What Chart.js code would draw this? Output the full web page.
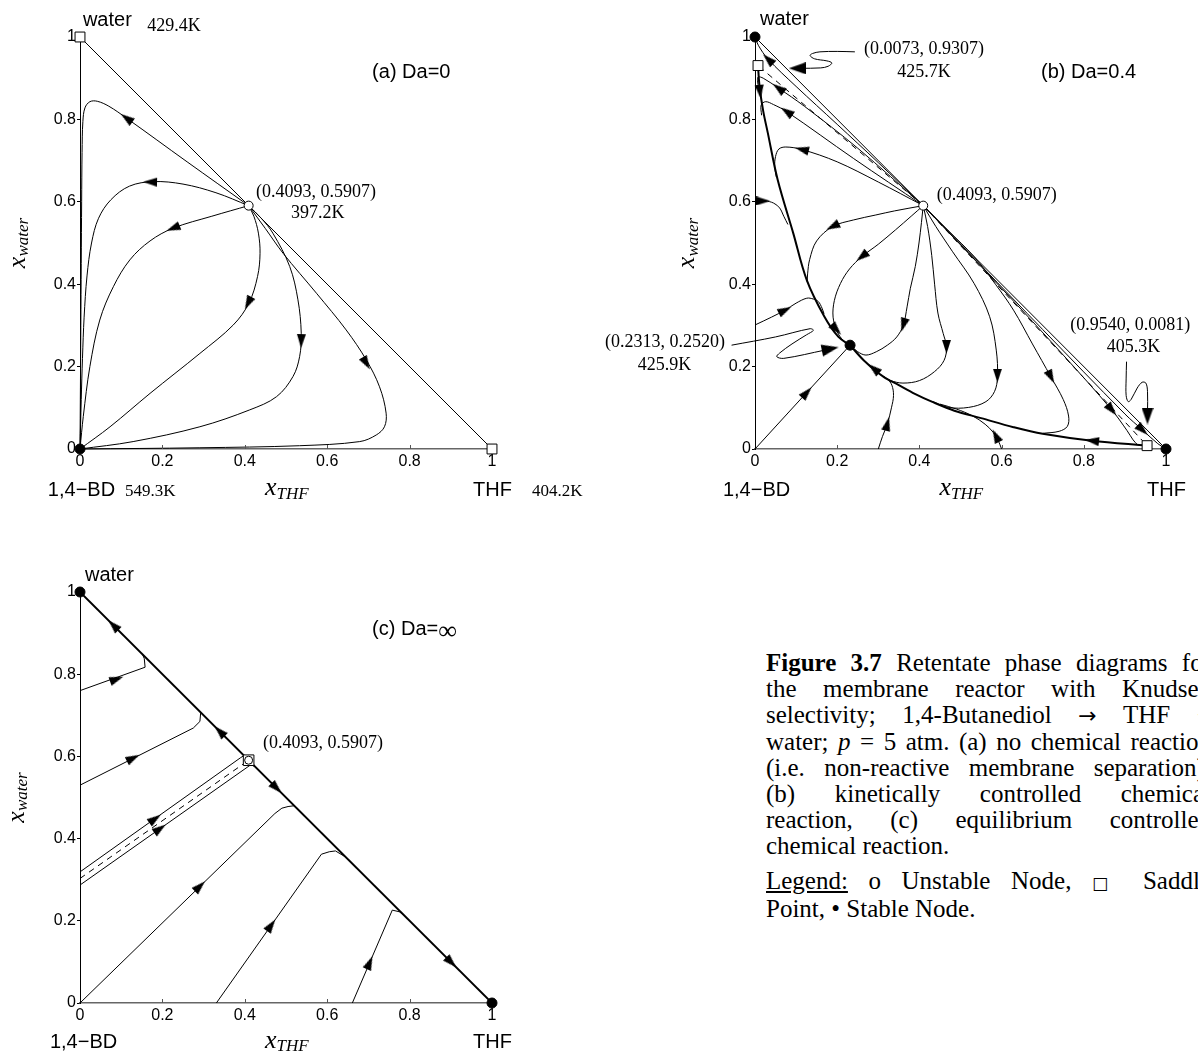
<!DOCTYPE html>
<html>
<head>
<meta charset="utf-8">
<script src="https://cdn.jsdelivr.net/npm/chart.js@4.4.1/dist/chart.umd.min.js"></script>
<style>
html, body { margin: 0; padding: 0; background: #fff; }
body { width: 1198px; height: 1052px; position: relative; overflow: hidden; }
canvas { position: absolute; }
#caption { position: absolute; left: 766px; top: 650px; font-family: "Liberation Serif", "Times New Roman", serif; font-size: 25px; line-height: 26px; color: #000; }
#caption div { width: 445px; }
#caption .j { text-align: justify; text-align-last: justify; }
#caption .gap { margin-top: 9px; }
#caption .arr { font-family: "DejaVu Sans", sans-serif; font-size: 22px; }
#caption .sq { font-family: "DejaVu Sans", sans-serif; font-size: 17px; }
</style>
</head>
<body>
<canvas id="ca" width="620" height="520" style="left:0;top:0"></canvas>
<canvas id="cb" width="628" height="520" style="left:570px;top:0"></canvas>
<canvas id="cc" width="570" height="512" style="left:0;top:540px"></canvas>
<div id="caption">
  <div class="j"><b>Figure 3.7</b> Retentate phase diagrams for</div>
  <div class="j">the membrane reactor with Knudsen</div>
  <div class="j">selectivity; 1,4-Butanediol <span class="arr">&rarr;</span> THF +</div>
  <div class="j">water; <i>p</i> = 5 atm. (a) no chemical reaction</div>
  <div class="j">(i.e. non-reactive membrane separation),</div>
  <div class="j">(b) kinetically controlled chemical</div>
  <div class="j">reaction, (c) equilibrium controlled</div>
  <div>chemical reaction.</div>
  <div class="j gap"><u>Legend:</u> o Unstable Node, <span class="sq">&#9633;</span> Saddle</div>
  <div>Point, &bull; Stable Node.</div>
</div>
<script>
// axis ticks, shared by the three panels
const tickValues = [0, 0.2, 0.4, 0.6, 0.8, 1];
const tickLabels = ['0', '0.2', '0.4', '0.6', '0.8', '1'];

// ---- (a) Da=0 ----
const aEdge = [[0, 1], [1, 0]];
const aCurve1 = [[0.4093, 0.5907], [0.26, 0.697], [0.113, 0.803], [0.07, 0.832], [0.042, 0.844], [0.024, 0.843], [0.012, 0.828], [0.007, 0.795], [0.005, 0.72], [0.004, 0.6], [0.003, 0.45], [0.002, 0.3], [0.001, 0.15], [0, 0]];
const aCurve2 = [[0.4093, 0.5907], [0.33, 0.622], [0.25, 0.643], [0.178, 0.649], [0.12, 0.638], [0.075, 0.605], [0.045, 0.56], [0.028, 0.5], [0.017, 0.42], [0.01, 0.32], [0.006, 0.22], [0.003, 0.12], [0, 0]];
const aCurve3 = [[0.4093, 0.5907], [0.32, 0.565], [0.226, 0.536], [0.17, 0.505], [0.121, 0.459], [0.081, 0.394], [0.048, 0.313], [0.024, 0.2], [0.008, 0.079], [0, 0]];
const aCurve4 = [[0.4093, 0.5907], [0.422, 0.565], [0.433, 0.524], [0.437, 0.475], [0.431, 0.419], [0.41, 0.354], [0.372, 0.301], [0.291, 0.232], [0.17, 0.135], [0.073, 0.054], [0, 0]];
const aCurve5 = [[0.4093, 0.5907], [0.44, 0.56], [0.468, 0.524], [0.509, 0.443], [0.529, 0.362], [0.537, 0.281], [0.533, 0.224], [0.517, 0.176], [0.477, 0.127], [0.412, 0.095], [0.291, 0.054], [0.129, 0.018], [0, 0]];
const aCurve6 = [[0.4093, 0.5907], [0.45, 0.535], [0.493, 0.475], [0.574, 0.378], [0.646, 0.289], [0.695, 0.216], [0.727, 0.151], [0.743, 0.087], [0.739, 0.054], [0.719, 0.034], [0.679, 0.018], [0.533, 0.008], [0.291, 0.003], [0, 0]];
const aArrows = [[0.113, 0.803, -0.81, 0.58], [0.17, 0.648, -1, 0.02], [0.226, 0.536, -0.93, -0.37], [0.408, 0.354, -0.45, -0.89], [0.537, 0.262, -0.03, -1], [0.695, 0.208, 0.5, -0.86]];
const aSaddle = [[0, 1], [1, 0]];
const aUnstable = [[0.4093, 0.5907]];
const aStable = [[0, 0]];

// ---- (b) Da=0.4 ----
const bEdge = [[0, 1], [1, 0]];
const bSepUpper = [[0.0073, 0.9307], [0.011, 0.881], [0.02, 0.82], [0.031, 0.768], [0.055, 0.654], [0.093, 0.524], [0.126, 0.41], [0.169, 0.321], [0.203, 0.272], [0.2313, 0.252]];
const bSepLower = [[0.954, 0.0081], [0.82, 0.02], [0.7, 0.037], [0.629, 0.053], [0.55, 0.075], [0.485, 0.093], [0.43, 0.115], [0.389, 0.134], [0.35, 0.155], [0.313, 0.175], [0.265, 0.215], [0.2313, 0.252]];
const bDash1 = [[0.4093, 0.5907], [0.0073, 0.9307]];
const bDash2 = [[0.4093, 0.5907], [0.954, 0.0081]];
const bCurve1 = [[0.4093, 0.5907], [0.3, 0.695], [0.2, 0.788], [0.1, 0.88], [0.032, 0.946], [0.008, 0.98], [0, 1]];
const bCurve2 = [[0.4093, 0.5907], [0.25, 0.73], [0.12, 0.832], [0.057, 0.876], [0.02, 0.9], [0.008, 0.903], [0.006, 0.895], [0.009, 0.875]];
const bCurve3 = [[0.4093, 0.5907], [0.24, 0.705], [0.077, 0.819], [0.045, 0.836], [0.026, 0.843], [0.015, 0.835], [0.016, 0.81]];
const bCurve4 = [[0.4093, 0.5907], [0.3, 0.648], [0.2, 0.697], [0.114, 0.727], [0.075, 0.733], [0.058, 0.728], [0.05, 0.71], [0.048, 0.685], [0.052, 0.66]];
const bCurve5 = [[0, 0.601], [0.025, 0.602], [0.045, 0.597], [0.06, 0.585], [0.07, 0.565], [0.08, 0.545]];
const bCurve6 = [[0.4093, 0.5907], [0.34, 0.578], [0.294, 0.568], [0.24, 0.556], [0.189, 0.54], [0.15, 0.505], [0.133, 0.46], [0.128, 0.425], [0.127, 0.405]];
const bCurve7 = [[0.4093, 0.5907], [0.38, 0.565], [0.342, 0.532], [0.3, 0.497], [0.26, 0.467], [0.23, 0.437], [0.208, 0.402], [0.193, 0.36], [0.19, 0.32], [0.2, 0.285], [0.215, 0.263], [0.2313, 0.252]];
const bCurve8 = [[0.4093, 0.5907], [0.405, 0.55], [0.399, 0.5], [0.39, 0.443], [0.378, 0.39], [0.37, 0.345], [0.361, 0.301], [0.345, 0.272], [0.322, 0.252], [0.295, 0.236], [0.27, 0.228], [0.25, 0.236], [0.2313, 0.252]];
const bCurve9 = [[0.4093, 0.5907], [0.42, 0.54], [0.43, 0.47], [0.437, 0.4], [0.445, 0.33], [0.458, 0.28], [0.466, 0.248], [0.46, 0.215], [0.437, 0.188], [0.4, 0.166], [0.36, 0.16], [0.33, 0.166], [0.313, 0.175]];
const bCurve10 = [[0.4093, 0.5907], [0.44, 0.54], [0.48, 0.48], [0.533, 0.402], [0.571, 0.321], [0.587, 0.24], [0.59, 0.175], [0.583, 0.14], [0.562, 0.115], [0.52, 0.101], [0.47, 0.101], [0.43, 0.116]];
const bCurve11 = [[0.4093, 0.5907], [0.47, 0.53], [0.533, 0.467], [0.585, 0.4], [0.629, 0.337], [0.675, 0.255], [0.72, 0.175], [0.75, 0.12], [0.763, 0.08], [0.76, 0.055], [0.74, 0.043], [0.7, 0.038]];
const bCurve12 = [[0.4093, 0.5907], [0.6, 0.39], [0.75, 0.228], [0.868, 0.095], [0.905, 0.045], [0.92, 0.022], [0.93, 0.011]];
const bCurve13 = [[0.4093, 0.5907], [0.7, 0.29], [0.9, 0.085], [0.943, 0.046], [0.98, 0.013], [1, 0]];
const bCurve14 = [[0.3, 0], [0.31, 0.03], [0.322, 0.061], [0.332, 0.1], [0.337, 0.13], [0.333, 0.155], [0.322, 0.17], [0.313, 0.176]];
const bCurve15 = [[0.6, 0], [0.592, 0.02], [0.58, 0.04], [0.56, 0.06], [0.53, 0.08], [0.49, 0.097], [0.45, 0.109]];
const bCurve16 = [[0, 0], [0.2313, 0.252]];
const bCurve17 = [[0, 0.301], [0.04, 0.32], [0.073, 0.337], [0.1, 0.354], [0.126, 0.366], [0.142, 0.364], [0.154, 0.358], [0.163, 0.342], [0.168, 0.328]];
const bArrows = [[0.032, 0.946, -1, 0.95], [0.057, 0.876, -1, 0.75], [0.012, 0.867, 0.1, -1], [0.077, 0.819, -1, 0.69], [0.114, 0.727, -1, 0.25], [0.02, 0.602, 1, 0], [0.189, 0.54, -1, -0.5], [0.26, 0.467, -1, -0.8], [0.361, 0.301, -0.3, -1], [0.466, 0.248, 0, -1], [0.59, 0.178, 0, -1], [0.72, 0.175, 0.5, -1], [0.868, 0.095, 0.64, -0.77], [0.943, 0.046, 1, -0.95], [0.82, 0.02, -1, 0.12], [0.289, 0.195, -1, 0.83], [0.198, 0.29, 1, -1.1], [0.322, 0.061, 0.25, 1], [0.586, 0.032, -0.5, 1], [0.126, 0.137, 1, 1.09], [0.073, 0.337, 1, 0.5]];
const bNote1 = [[0.243, 0.964], [0.2, 0.965], [0.158, 0.964], [0.14, 0.96], [0.134, 0.955], [0.145, 0.947], [0.175, 0.942], [0.187, 0.937], [0.178, 0.929], [0.16, 0.925], [0.11, 0.924]];
const bNote2 = [[-0.057, 0.252], [0.05, 0.272], [0.134, 0.292], [0.142, 0.288], [0.125, 0.277], [0.09, 0.255], [0.06, 0.233], [0.053, 0.224], [0.07, 0.22], [0.17, 0.24]];
const bNote3 = [[0.904, 0.212], [0.903, 0.17], [0.903, 0.13], [0.908, 0.115], [0.915, 0.12], [0.93, 0.148], [0.942, 0.162], [0.951, 0.16], [0.955, 0.14], [0.955, 0.09]];
const bNoteArrows = [[0.103, 0.924, -1, 0], [0.183, 0.243, 1, 0.2], [0.955, 0.08, 0, -1]];
const bSaddle = [[0.0073, 0.9307], [0.954, 0.0081]];
const bUnstable = [[0.4093, 0.5907]];
const bStable = [[0, 1], [0.2313, 0.252], [1, 0]];

// ---- (c) Da=inf ----
const cEdge = [[0, 1], [1, 0]];
const cCurve1 = [[0, 0.76], [0.158, 0.817], [0.156, 0.838], [0.152, 0.848]];
const cCurve2 = [[0, 0.53], [0.275, 0.669], [0.291, 0.685], [0.293, 0.707]];
const cCurve3 = [[0, 0.319], [0.39, 0.597], [0.398, 0.602]];
const cDash = [[0, 0.303], [0.4093, 0.5907]];
const cCurve4 = [[0, 0.287], [0.415, 0.58], [0.425, 0.575]];
const cCurve5 = [[0, 0], [0.473, 0.461], [0.49, 0.474], [0.505, 0.478], [0.52, 0.48]];
const cCurve6 = [[0.331, 0], [0.586, 0.362], [0.605, 0.368], [0.62, 0.37], [0.645, 0.355]];
const cCurve7 = [[0.661, 0], [0.758, 0.226], [0.775, 0.222], [0.785, 0.215]];
const cArrows = [[0.081, 0.919, -1, 1], [0.339, 0.661, -1, 1], [0.477, 0.523, 1, -1], [0.901, 0.099, 1, -1], [0.089, 0.788, 1, 0.36], [0.129, 0.596, 1, 0.5], [0.182, 0.448, 1, 0.708], [0.194, 0.424, 1, 0.706], [0.291, 0.284, 1, 0.975], [0.464, 0.189, 1, 1.42], [0.703, 0.098, 1, 2.33]];
const cSaddle = [[0.4093, 0.5907]];
const cUnstable = [[0.4093, 0.5907]];
const cStable = [[0, 1], [1, 0]];

const SANS = '"Liberation Sans", Arial, sans-serif';
const SERIF = '"Liberation Serif", "Times New Roman", serif';
const LAB = '20px ' + SANS;
const NUM = '18px ' + SERIF;
const XMAIN = 'italic 26px ' + SERIF;
const XSUB = 'italic 17px ' + SERIF;

function arrowHead(w, h) {
  const c = document.createElement('canvas');
  c.width = w; c.height = h;
  const g = c.getContext('2d');
  g.fillStyle = '#000';
  g.beginPath(); g.moveTo(w / 2, 0); g.lineTo(w, h); g.lineTo(0, h); g.closePath(); g.fill();
  return c;
}
const smallHead = arrowHead(9, 14);
const bigHead = arrowHead(12, 17);

function pts(arr) { return arr.map(p => ({ x: p[0], y: p[1] })); }

function curve(arr, opt) {
  opt = opt || {};
  return {
    data: pts(arr), showLine: true, borderColor: '#000', backgroundColor: '#000',
    borderWidth: opt.w || 1, borderDash: opt.dash || [], pointRadius: 0,
    tension: opt.t == null ? 0.35 : opt.t, clip: false, order: 3
  };
}

function arrowAngle(ctx) {
  const r = ctx.raw;
  if (!r) return 0;
  const sx = ctx.chart.scales.x, sy = ctx.chart.scales.y;
  const kx = sx.getPixelForValue(1) - sx.getPixelForValue(0);
  const ky = sy.getPixelForValue(0) - sy.getPixelForValue(1);
  return Math.atan2(r.dx * kx, r.dy * ky) * 180 / Math.PI;
}

function arrows(list, head) {
  return {
    data: list.map(a => ({ x: a[0], y: a[1], dx: a[2], dy: a[3] })),
    showLine: false, pointStyle: head, pointRadius: 6, pointRotation: arrowAngle,
    clip: false, order: 1
  };
}

function marks(arr, style, r, fill) {
  return {
    data: pts(arr), showLine: false, pointStyle: style, pointRadius: r,
    backgroundColor: fill, borderColor: '#000', borderWidth: 1, clip: false, order: 0
  };
}

// inward x ticks and the free text of each panel
const annotate = {
  id: 'annotate',
  afterDatasetsDraw(chart, args, opts) {
    const ctx = chart.ctx, sx = chart.scales.x, sy = chart.scales.y;
    ctx.save();
    ctx.strokeStyle = '#555';
    ctx.lineWidth = 1;
    const yb = sy.getPixelForValue(0);
    tickValues.slice(1, -1).forEach(v => {
      const px = Math.round(sx.getPixelForValue(v)) + 0.5;
      ctx.beginPath(); ctx.moveTo(px, yb); ctx.lineTo(px, yb - 4); ctx.stroke();
    });
    ctx.restore();
    (opts.items || []).forEach(it => {
      ctx.save();
      ctx.translate(sx.getPixelForValue(it.x), sy.getPixelForValue(it.y));
      if (it.rot) ctx.rotate(it.rot * Math.PI / 180);
      ctx.fillStyle = '#000';
      ctx.textBaseline = 'middle';
      let w = 0;
      it.parts.forEach(p => { ctx.font = p[1]; w += ctx.measureText(p[0]).width; });
      let cx = it.align === 'center' ? -w / 2 : 0;
      it.parts.forEach(p => {
        ctx.font = p[1];
        ctx.fillText(p[0], cx, p[2] || 0);
        cx += ctx.measureText(p[0]).width;
      });
      ctx.restore();
    });
  }
};

function axis(isX, size) {
  return {
    type: 'linear', min: 0, max: 1,
    afterBuildTicks: s => { s.ticks = tickValues.map(v => ({ value: v })); },
    afterFit: s => { if (isX) s.height = size; else s.width = size; },
    ticks: {
      autoSkip: false, maxRotation: 0, color: '#000', padding: isX ? 3 : 1,
      font: { family: SANS, size: 16 },
      callback: (v, i) => tickLabels[i]
    },
    grid: isX
      ? { display: false, drawTicks: false }
      : { display: true, drawOnChartArea: false, drawTicks: true, tickLength: 3, color: '#000' },
    border: { display: true, color: isX ? '#666' : '#000', width: isX ? 1.5 : 1 }
  };
}

function panel(id, box, datasets, items) {
  return new Chart(document.getElementById(id), {
    type: 'scatter',
    data: { datasets: datasets },
    options: {
      responsive: false, animation: false, devicePixelRatio: 1, events: [],
      layout: { padding: { top: box.top, right: box.right, left: 0, bottom: 0 } },
      scales: { x: axis(true, box.xh), y: axis(false, box.yw) },
      plugins: { legend: { display: false }, tooltip: { enabled: false }, annotate: { items: items } }
    },
    plugins: [annotate]
  });
}

function xwater(x) {
  return { x: x, y: 0.5, rot: -90, align: 'center', parts: [['x', XMAIN, -2], ['water', XSUB, 4]] };
}
function bottomLabels(bd, y) {
  return [
    { x: bd, y: y, parts: [['1,4\u2212BD', LAB]] },
    { x: 0.502, y: y, align: 'center', parts: [['x', XMAIN, -2], ['THF', XSUB, 4]] },
    { x: 0.954, y: y, parts: [['THF', LAB]] }
  ];
}

panel('ca', { top: 37, right: 128, xh: 71, yw: 80 }, [
  marks(aSaddle, 'rect', 7, '#fff'),
  marks(aUnstable, 'circle', 4.5, '#fff'),
  marks(aStable, 'circle', 5, '#000'),
  arrows(aArrows, smallHead),
  curve(aEdge, { t: 0 }),
  curve(aCurve1), curve(aCurve2), curve(aCurve3), curve(aCurve4), curve(aCurve5), curve(aCurve6)
], [
  { x: 0.007, y: 1.041, parts: [['water', LAB]] },
  { x: 0.163, y: 1.027, parts: [['429.4K', NUM]] },
  { x: 0.709, y: 0.913, parts: [['(a) Da=0', LAB]] },
  { x: 0.427, y: 0.624, parts: [['(0.4093, 0.5907)', NUM]] },
  { x: 0.512, y: 0.573, parts: [['397.2K', NUM]] },
  xwater(-0.146),
  { x: 0.109, y: -0.104, parts: [['549.3K', '17px ' + SERIF]] },
  { x: 1.097, y: -0.104, parts: [['404.2K', '17px ' + SERIF]] }
].concat(bottomLabels(-0.078, -0.1)));

panel('cb', { top: 37, right: 32, xh: 71, yw: 185 }, [
  marks(bSaddle, 'rect', 7, '#fff'),
  marks(bUnstable, 'circle', 4.5, '#fff'),
  marks(bStable, 'circle', 5, '#000'),
  arrows(bArrows, smallHead),
  arrows(bNoteArrows, bigHead),
  curve(bEdge, { t: 0 }),
  curve(bSepUpper, { w: 2 }), curve(bSepLower, { w: 2 }),
  curve(bDash1, { t: 0, dash: [6, 5] }), curve(bDash2, { t: 0, dash: [6, 5] }),
  curve(bCurve1), curve(bCurve2), curve(bCurve3), curve(bCurve4), curve(bCurve5),
  curve(bCurve6), curve(bCurve7), curve(bCurve8), curve(bCurve9), curve(bCurve10),
  curve(bCurve11), curve(bCurve12), curve(bCurve13), curve(bCurve14), curve(bCurve15),
  curve(bCurve16, { t: 0 }), curve(bCurve17),
  curve(bNote1), curve(bNote2), curve(bNote3)
], [
  { x: 0.012, y: 1.042, parts: [['water', LAB]] },
  { x: 0.265, y: 0.971, parts: [['(0.0073, 0.9307)', NUM]] },
  { x: 0.346, y: 0.914, parts: [['425.7K', NUM]] },
  { x: 0.696, y: 0.914, parts: [['(b) Da=0.4', LAB]] },
  { x: 0.442, y: 0.617, parts: [['(0.4093, 0.5907)', NUM]] },
  { x: -0.365, y: 0.26, parts: [['(0.2313, 0.2520)', NUM]] },
  { x: -0.285, y: 0.204, parts: [['425.9K', NUM]] },
  { x: 0.767, y: 0.30, parts: [['(0.9540, 0.0081)', NUM]] },
  { x: 0.856, y: 0.248, parts: [['405.3K', NUM]] },
  xwater(-0.159)
].concat(bottomLabels(-0.078, -0.1)));

panel('cc', { top: 52, right: 78, xh: 49, yw: 80 }, [
  marks(cUnstable, 'circle', 4, '#fff'),
  marks(cSaddle, 'rect', 7.5, '#fff'),
  marks(cStable, 'circle', 5, '#000'),
  arrows(cArrows, smallHead),
  curve(cEdge, { t: 0, w: 1.8 }),
  curve(cCurve1, { t: 0 }), curve(cCurve2, { t: 0 }), curve(cCurve3, { t: 0 }),
  curve(cDash, { t: 0, dash: [6, 5] }), curve(cCurve4, { t: 0 }),
  curve(cCurve5, { t: 0 }), curve(cCurve6, { t: 0 }), curve(cCurve7, { t: 0 })
], [
  { x: 0.012, y: 1.041, parts: [['water', LAB]] },
  { x: 0.709, y: 0.908, parts: [['(c) Da=', LAB], ['\u221e', '26px ' + SERIF, 2]] },
  { x: 0.444, y: 0.633, parts: [['(0.4093, 0.5907)', NUM]] },
  xwater(-0.148)
].concat(bottomLabels(-0.073, -0.097)));
</script>
</body>
</html>
